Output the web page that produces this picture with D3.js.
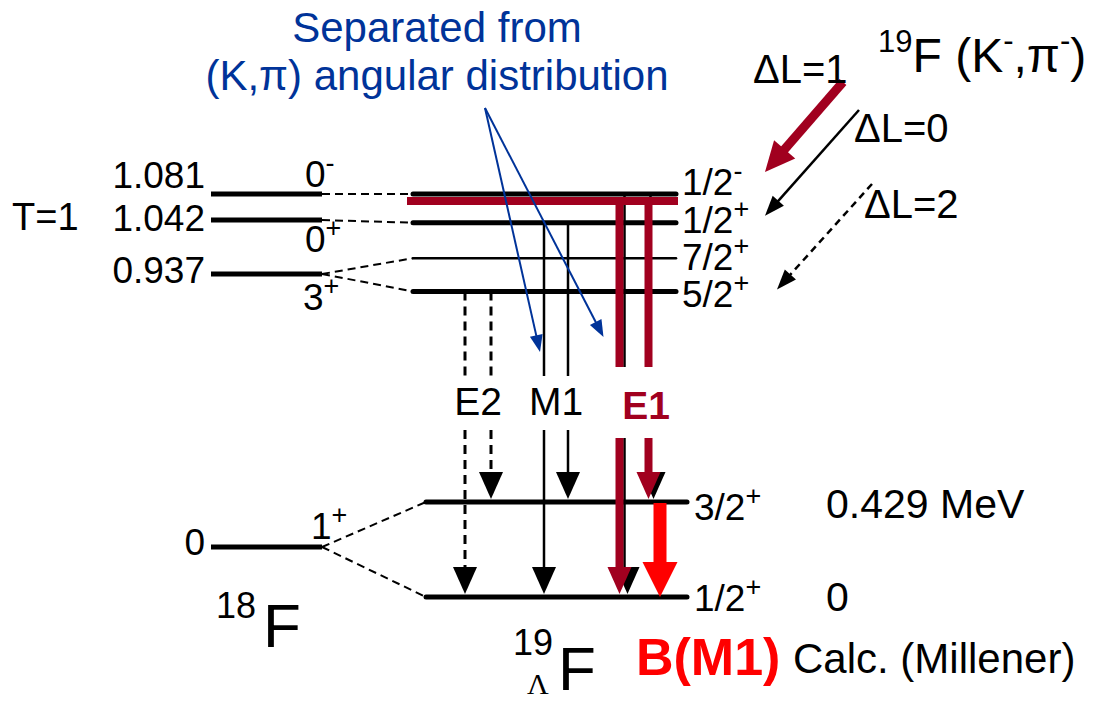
<!DOCTYPE html>
<html>
<head>
<meta charset="utf-8">
<script src="https://cdn.jsdelivr.net/npm/d3@7"></script>
<style>
  html, body { margin: 0; padding: 0; background: #fff; }
  svg { display: block; font-family: "Liberation Sans", Arial, Helvetica, sans-serif; }
</style>
</head>
<body>
<svg id="chart" width="1107" height="702"></svg>
<script>
// ---------------- data ----------------
// 18F core states (T=1 group and ground state), MeV
const coreEnergies     = [0, 0.937, 1.042, 1.081];
const coreEnergyLabels = ["0", "0.937", "1.042", "1.081"];
const coreSpins        = ["1", "3", "0", "0"];
const coreParities     = ["+", "+", "+", "-"];

// 19ΛF hypernuclear states; excitation energies in MeV (upper multiplet placed schematically)
const hypIds       = ["g", "d", "f5", "f7", "t1", "n"];
const hypSpins     = ["1/2", "3/2", "5/2", "7/2", "1/2", "1/2"];
const hypParities  = ["+", "+", "+", "+", "+", "-"];
const hypEnergies  = [0, 0.429, 1.38, 1.53, 1.69, 1.82];
const hypEnergyText = ["0", "0.429 MeV"];

// core -> hypernuclear coupling (dashed connectors)
const couplingCoreE = [1.081, 1.042, 0.937, 0.937, 0, 0];
const couplingHyp   = ["n", "t1", "f7", "f5", "d", "g"];

// gamma transitions
const multipolarities = ["E2", "M1", "E1"];
const gammaFrom  = ["f5", "f5", "t1", "t1", "n", "n"];
const gammaTo    = ["g", "d", "g", "d", "g", "d"];
const gammaType  = ["E2", "E2", "M1", "M1", "E1", "E1"];
const gammaSlot  = [0, 1, 0, 1, 0, 1];

// (K-,π-) population
const reactionLabels  = ["ΔL=1", "ΔL=0", "ΔL=2"];
const reactionTargets = ["n", "t1", "f5"];

// ---------------- styling ----------------
const BLACK = "#000", CRIMSON = "#a1001f", RED = "#ff0000", BLUE = "#003399";
const svg = d3.select("#chart");

// vertical scales
const yCore = d3.scaleLinear().domain(coreEnergies).range([547, 274, 220, 194]);
const yHyp  = d3.scaleLinear().domain([0, 0.429]).range([597, 502]);
const hypY  = Object.fromEntries(hypIds.map((id, i) => [id, yHyp(hypEnergies[i])]));

// horizontal layout
const coreX = [211, 322];
const hypXUpper = [413, 676];
const hypXLower = [426, 687];
const hypSpan = id => (hypY[id] > 400 ? hypXLower : hypXUpper);
const xGroup = d3.scalePoint().domain(multipolarities).range([478, 634]);
const pairGap = { E2: 26, M1: 24, E1: 29 };
const gammaX = i => xGroup(gammaType[i]) + (gammaSlot[i] - 0.5) * pairGap[gammaType[i]];

// helpers
function triangle(x, yTip, w, h) {
  return `M${x - w / 2},${yTip - h}L${x + w / 2},${yTip - h}L${x},${yTip}Z`;
}
function arrow(g, x1, y1, x2, y2, o) {
  const dx = x2 - x1, dy = y2 - y1, L = Math.hypot(dx, dy), ux = dx / L, uy = dy / L;
  const bx = x2 - ux * o.hl, by = y2 - uy * o.hl;
  const px = -uy * o.hw / 2, py = ux * o.hw / 2;
  g.append("line").attr("x1", x1).attr("y1", y1)
    .attr("x2", bx + ux * 2).attr("y2", by + uy * 2)
    .attr("stroke", o.color).attr("stroke-width", o.sw)
    .attr("stroke-dasharray", o.dash || null);
  g.append("path").attr("d", `M${x2},${y2}L${bx + px},${by + py}L${bx - px},${by - py}Z`)
    .attr("fill", o.color);
}
function jpText(g, x, y, base, sup, size, supSize, rise, anchor) {
  const t = g.append("text").attr("x", x).attr("y", y).attr("font-size", size)
    .attr("text-anchor", anchor || "start");
  t.append("tspan").text(base);
  t.append("tspan").attr("font-size", supSize).attr("dy", -rise).text(sup);
  return t;
}

// ---------------- dashed couplings ----------------
const gLinks = svg.append("g");
couplingCoreE.forEach((e, i) => {
  const h = couplingHyp[i];
  gLinks.append("line")
    .attr("x1", coreX[1]).attr("y1", yCore(e))
    .attr("x2", hypSpan(h)[0]).attr("y2", hypY[h])
    .attr("stroke", BLACK).attr("stroke-width", 2).attr("stroke-dasharray", "8,5");
});

// ---------------- 18F levels ----------------
const gCore = svg.append("g");
const coreLabelDy = [8, 9, 11, -6];
coreEnergies.forEach((e, i) => {
  gCore.append("line").attr("x1", coreX[0]).attr("x2", coreX[1])
    .attr("y1", yCore(e)).attr("y2", yCore(e))
    .attr("stroke", BLACK).attr("stroke-width", 5);
  gCore.append("text").attr("x", coreX[0] - 6).attr("y", yCore(e) + coreLabelDy[i])
    .attr("text-anchor", "end").attr("font-size", 37).text(coreEnergyLabels[i]);
});
// J^π of the core states, placed above or below their line
const coreJpDy = [-8, 36, 32, -7];
const coreJpX  = [311, 303, 305, 305];
coreEnergies.forEach((e, i) => {
  jpText(gCore, coreJpX[i], yCore(e) + coreJpDy[i], coreSpins[i], coreParities[i], 37, 27, 15);
});
gCore.append("text").attr("x", 12).attr("y", 230).attr("font-size", 38).text("T=1");

// ---------------- 19ΛF levels ----------------
const gHyp = svg.append("g");
hypIds.forEach((id, i) => {
  const [x0, x1] = hypSpan(id);
  gHyp.append("line").attr("x1", x0).attr("x2", x1)
    .attr("y1", hypY[id]).attr("y2", hypY[id])
    .attr("stroke", BLACK).attr("stroke-linecap", "round")
    .attr("stroke-width", id === "f7" ? 2.5 : 5);
});

// ---------------- gamma transitions ----------------
const gGam = svg.append("g");
const labelGap = { E2: [376, 430], M1: [376, 430], E1: [367, 438] };
const headW = 24, headH = 27;
gammaFrom.forEach((from, i) => {
  const type = gammaType[i];
  const x = gammaX(i);
  const yTop = hypY[from];
  const yTip = hypY[gammaTo[i]] - 3;
  const [g0, g1] = labelGap[type];
  if (type === "E1") {
    // underlying black line of the original scheme
    const xb = x + (gammaSlot[i] === 0 ? 5 : 2);
    [[yTop, g0], [g1, yTip - headH + 2]].forEach(([a, b]) =>
      gGam.append("line").attr("x1", xb).attr("x2", xb).attr("y1", a).attr("y2", b)
        .attr("stroke", BLACK).attr("stroke-width", 2.5));
    gGam.append("path").attr("d", triangle(xb + 3, yTip, headW, headH)).attr("fill", BLACK);
    return;
  }
  const dash = type === "E2" ? "9,6" : null;
  [[yTop, g0], [g1, yTip - headH + 2]].forEach(([a, b]) =>
    gGam.append("line").attr("x1", x).attr("x2", x).attr("y1", a).attr("y2", b)
      .attr("stroke", BLACK).attr("stroke-width", type === "E2" ? 3 : 2.5)
      .attr("stroke-dasharray", dash));
  gGam.append("path").attr("d", triangle(x, yTip, headW, headH)).attr("fill", BLACK);
});

// highlighted 1/2- level and E1 decays
const [hx0, hx1] = hypXUpper;
gGam.append("line").attr("x1", hx0 - 6).attr("x2", hx1 + 2)
  .attr("y1", hypY.n + 7).attr("y2", hypY.n + 7)
  .attr("stroke", CRIMSON).attr("stroke-width", 8);
gammaFrom.forEach((from, i) => {
  if (gammaType[i] !== "E1") return;
  const x = gammaX(i);
  const yTop = hypY[from] + 3;
  const yTip = hypY[gammaTo[i]] - 3;
  const [g0, g1] = labelGap.E1;
  [[yTop, g0], [g1, yTip - headH + 2]].forEach(([a, b]) =>
    gGam.append("line").attr("x1", x).attr("x2", x).attr("y1", a).attr("y2", b)
      .attr("stroke", CRIMSON).attr("stroke-width", 8));
  gGam.append("path").attr("d", triangle(x, yTip, headW, headH)).attr("fill", CRIMSON);
});

// multipolarity labels
multipolarities.forEach(m => {
  const isE1 = m === "E1";
  gGam.append("text").attr("x", xGroup(m) + (isE1 ? 12 : 0)).attr("y", isE1 ? 419 : 415)
    .attr("text-anchor", "middle").attr("font-size", 39)
    .attr("font-weight", isE1 ? "bold" : null)
    .attr("fill", isE1 ? CRIMSON : BLACK).text(m);
});

// B(M1) ground-state doublet transition
const xBM1 = xGroup("E1") + 26;
gGam.append("line").attr("x1", xBM1).attr("x2", xBM1)
  .attr("y1", hypY.d + 1).attr("y2", hypY.g - 32)
  .attr("stroke", RED).attr("stroke-width", 13);
gGam.append("path").attr("d", triangle(xBM1, hypY.g, 35, 35)).attr("fill", RED);

// ---------------- level labels ----------------
const gLab = svg.append("g");
const hypLabelDy = { g: 14, d: 18, f5: 16, f7: 12, t1: 10, n: 1 };
hypIds.forEach((id, i) => {
  const x = hypSpan(id)[1] + (hypY[id] > 400 ? 7 : 6);
  jpText(gLab, x, hypY[id] + hypLabelDy[id], hypSpins[i], hypParities[i], 37, 27, 15);
});
hypEnergyText.forEach((t, i) => {
  gLab.append("text").attr("x", 826).attr("y", hypY[hypIds[i]] + (i === 0 ? 14 : 16))
    .attr("font-size", 41).text(t);
});

// ---------------- reaction arrows ----------------
const gRx = svg.append("g");
const rxStart = [[843, 82], [859, 110], [872, 184]];
const rxTipDx = [765, 765, 777];
const rxTipDy = [-22, -7, -2];
const rxStyle = [
  { color: CRIMSON, sw: 9, hl: 30, hw: 28 },
  { color: BLACK, sw: 2.5, hl: 20, hw: 15 },
  { color: BLACK, sw: 2.5, hl: 20, hw: 15, dash: "7,5" }
];
reactionTargets.forEach((t, i) => {
  arrow(gRx, rxStart[i][0], rxStart[i][1], rxTipDx[i], hypY[t] + rxTipDy[i], rxStyle[i]);
});
const rxLabelPos = [[753, 83], [854, 142], [864, 218]];
reactionLabels.forEach((l, i) => {
  gRx.append("text").attr("x", rxLabelPos[i][0]).attr("y", rxLabelPos[i][1])
    .attr("font-size", 40).text(l);
});

// reaction title 19F(K-,π-)
const title = gRx.append("text").attr("x", 878).attr("y", 72).attr("font-size", 48);
title.append("tspan").attr("font-size", 31).attr("dy", -20).text("19");
title.append("tspan").attr("dy", 20).text("F (K");
title.append("tspan").attr("font-size", 31).attr("dy", -21).text("-");
title.append("tspan").attr("dy", 21).text(",π");
title.append("tspan").attr("font-size", 31).attr("dy", -21).text("-");
title.append("tspan").attr("dy", 21).text(")");

// ---------------- nucleus names ----------------
const gNuc = svg.append("g");
gNuc.append("text").attr("x", 216).attr("y", 618).attr("font-size", 36).text("18");
gNuc.append("text").attr("x", 263).attr("y", 647).attr("font-size", 62).text("F");
gNuc.append("text").attr("x", 513).attr("y", 655).attr("font-size", 36).text("19");
gNuc.append("text").attr("x", 527).attr("y", 694).attr("font-size", 30)
  .attr("font-family", "'Liberation Serif', 'Times New Roman', serif").text("Λ");
gNuc.append("text").attr("x", 558).attr("y", 690).attr("font-size", 62).text("F");
gNuc.append("text").attr("x", 636).attr("y", 675).attr("font-size", 52)
  .attr("font-weight", "bold").attr("fill", RED).text("B(M1)");
gNuc.append("text").attr("x", 793).attr("y", 673).attr("font-size", 42).text("Calc. (Millener)");

// ---------------- annotation ----------------
const gAnn = svg.append("g");
gAnn.append("text").attr("x", 437).attr("y", 42).attr("text-anchor", "middle")
  .attr("font-size", 42).attr("fill", BLUE).text("Separated from");
gAnn.append("text").attr("x", 437).attr("y", 90).attr("text-anchor", "middle")
  .attr("font-size", 42).attr("fill", BLUE).text("(K,π) angular distribution");
const apex = [485, 108];
const annTargets = [[gammaX(2) - 4, 352], [gammaX(4) - 16, 337]];
annTargets.forEach(([tx, ty]) =>
  arrow(gAnn, apex[0], apex[1], tx, ty, { color: BLUE, sw: 2, hl: 17, hw: 13 }));
</script>
</body>
</html>
